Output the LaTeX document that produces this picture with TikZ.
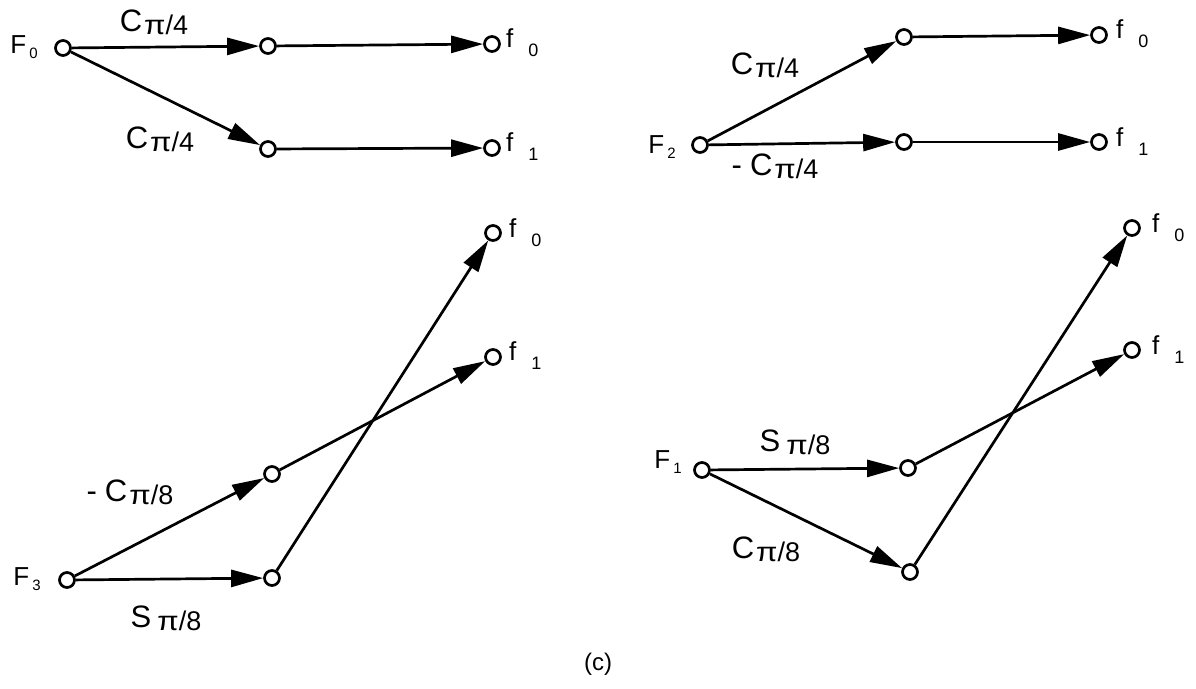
\documentclass[tikz,border=0pt]{standalone}
\usepackage{fontspec}
\setmainfont{Liberation Sans}
\usetikzlibrary{arrows.meta}
\newcommand{\wt}[3][2pt]{#2\hspace{#1}\raisebox{-3pt}{\fontsize{27}{27}\selectfont\scalebox{1.15}[1]{π}/#3}}
\newcommand{\bigF}[1]{F\hspace{3pt}\raisebox{-5pt}{\fontsize{15}{15}\selectfont #1}}
\newcommand{\outf}[1]{f\hspace{15pt}\raisebox{-9pt}{\fontsize{18}{18}\selectfont #1}}
\begin{document}
\begin{tikzpicture}[x=1pt,y=-1pt,
  pt/.style={circle,draw,fill=white,line width=2.7pt,minimum size=15pt,inner sep=0pt},
  edge/.style={line width=2.7pt,-{Triangle[length=32pt,width=17pt]}},
  wlab/.style={font=\fontsize{31}{31}\selectfont,inner sep=0pt},
  inlab/.style={font=\fontsize{26}{26}\selectfont,inner sep=0pt},
  outlab/.style={font=\fontsize{26}{26}\selectfont,inner sep=0pt,anchor=west}]
\useasboundingbox (0,0) rectangle (1196,688);
% top-left
\node[pt] (F0) at (63,48) {};
\node[pt] (a1) at (268,46) {};
\node[pt] (a2) at (268,149) {};
\node[pt] (o1) at (492,44) {};
\node[pt] (o2) at (492,148) {};
\draw[edge] (F0) -- (a1);
\draw[edge] (a1) -- (o1);
\draw[edge] (F0) -- (a2);
\draw[edge] (a2) -- (o2);
\node[inlab] (lF0) at (24,47) {\bigF{0}};
\node[wlab] (w1) at (154,22) {\wt{C}{4}};
\node[wlab] (w2) at (160,139) {\wt{C}{4}};
\node[outlab] (lo1) at (506,43) {\outf{0}};
\node[outlab] (lo2) at (506,147) {\outf{1}};
% top-right
\node[pt] (F2) at (700,145) {};
\node[pt] (b1) at (904,37) {};
\node[pt] (b2) at (904,142) {};
\node[pt] (p1) at (1099,35) {};
\node[pt] (p2) at (1099,142) {};
\draw[edge] (F2) -- (b1);
\draw[edge] (b1) -- (p1);
\draw[edge] (F2) -- (b2);
\draw[edge] (b2) -- (p2);
\node[inlab] (lF2) at (662,147) {\bigF{2}};
\node[wlab] (w3) at (765,65) {\wt{C}{4}};
\node[wlab] (w4) at (775,166) {-\hspace{8pt}\wt{C}{4}};
\node[outlab] (lp1) at (1116,34) {\outf{0}};
\node[outlab] (lp2) at (1116,142) {\outf{1}};
% bottom-left
\node[pt] (F3) at (67,580) {};
\node[pt] (c1) at (272,474) {};
\node[pt] (c2) at (272,578) {};
\node[pt] (q1) at (493,233) {};
\node[pt] (q2) at (493,357) {};
\draw[edge] (F3) -- (c1);
\draw[edge] (F3) -- (c2);
\draw[edge] (c1) -- (q2);
\draw[edge] (c2) -- (q1);
\node[inlab] (lF3) at (27,579) {\bigF{3}};
\node[wlab] (w5) at (130,492) {-\hspace{8pt}\wt{C}{8}};
\node[wlab] (w6) at (166,618) {\wt[6pt]{S}{8}};
\node[outlab] (lq1) at (509,233) {\outf{0}};
\node[outlab] (lq2) at (509,356) {\outf{1}};
% bottom-right
\node[pt] (F1) at (702,470) {};
\node[pt] (d1) at (908,468) {};
\node[pt] (d2) at (910,572) {};
\node[pt] (r1) at (1132,228) {};
\node[pt] (r2) at (1132,350) {};
\draw[edge] (F1) -- (d1);
\draw[edge] (F1) -- (d2);
\draw[edge] (d1) -- (r2);
\draw[edge] (d2) -- (r1);
\node[inlab] (lF1) at (668,462) {\bigF{1}};
\node[wlab] (w7) at (795,442) {\wt[6pt]{S}{8}};
\node[wlab] (w8) at (766,549) {\wt{C}{8}};
\node[outlab] (lr1) at (1152,228) {\outf{0}};
\node[outlab] (lr2) at (1152,350) {\outf{1}};
\node[font=\fontsize{24}{24}\selectfont,inner sep=0pt] (cap) at (598,664) {(c)};
\end{tikzpicture}
\end{document}
